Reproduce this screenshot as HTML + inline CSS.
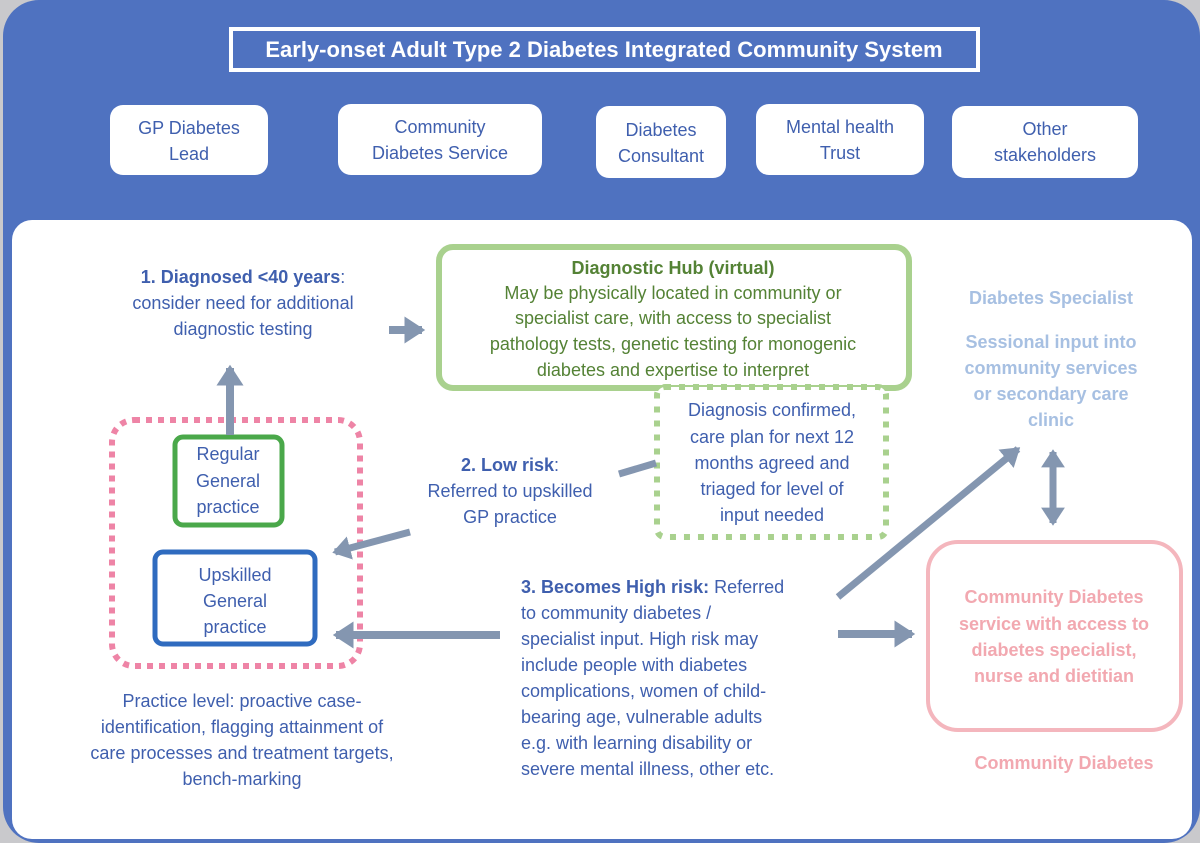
<!DOCTYPE html>
<html><head><meta charset="utf-8"><style>
html,body{margin:0;padding:0;background:#fff;}
svg{display:block;}
text{font-family:"Liberation Sans",sans-serif;font-size:18px;}
</style></head><body>
<svg width="1200" height="843" viewBox="0 0 1200 843" xmlns="http://www.w3.org/2000/svg">
<defs>
<marker id="ah" markerWidth="4" markerHeight="4" refX="2.2" refY="2" orient="auto" markerUnits="strokeWidth"><path d="M0,0.3 L2.6,2 L0,3.7 Z" fill="#8496b0"/></marker>
<marker id="ahs" markerWidth="4" markerHeight="4" refX="0.4" refY="2" orient="auto" markerUnits="strokeWidth"><path d="M2.6,0.3 L0,2 L2.6,3.7 Z" fill="#8496b0"/></marker>
</defs>
<rect x="0" y="0" width="1200" height="843" fill="#c9c9cc"/>
<rect x="3" y="0" width="1197" height="843" rx="36" fill="#4f72c0"/>
<rect x="12" y="220" width="1180" height="619" rx="20" fill="#fff"/>
<!-- title -->
<rect x="231" y="29" width="747" height="41" fill="none" stroke="#fff" stroke-width="4"/>
<text x="604" y="57" text-anchor="middle" fill="#fff" font-weight="bold" style="font-size:22px">Early-onset Adult Type 2 Diabetes Integrated Community System</text>
<!-- stakeholder boxes -->
<g fill="#fff">
<rect x="110" y="105" width="158" height="70" rx="13"/>
<rect x="338" y="104" width="204" height="71" rx="13"/>
<rect x="596" y="106" width="130" height="72" rx="13"/>
<rect x="756" y="104" width="168" height="71" rx="13"/>
<rect x="952" y="106" width="186" height="72" rx="13"/>
</g>
<g fill="#3f5fae" text-anchor="middle">
<text x="189" y="134">GP Diabetes</text><text x="189" y="160">Lead</text>
<text x="440" y="133">Community</text><text x="440" y="159">Diabetes Service</text>
<text x="661" y="136">Diabetes</text><text x="661" y="162">Consultant</text>
<text x="840" y="133">Mental health</text><text x="840" y="159">Trust</text>
<text x="1045" y="135">Other</text><text x="1045" y="161">stakeholders</text>
</g>
<!-- text 1 -->
<g fill="#3f5fae" text-anchor="middle">
<text x="243" y="283"><tspan font-weight="bold">1. Diagnosed &lt;40 years</tspan>:</text>
<text x="243" y="309">consider need for additional</text>
<text x="243" y="335">diagnostic testing</text>
</g>
<!-- diagnostic hub -->
<rect x="439" y="247" width="470" height="141" rx="14" fill="#fff" stroke="#a9d18e" stroke-width="6"/>
<g fill="#548235" text-anchor="middle">
<text x="673" y="274" font-weight="bold">Diagnostic Hub (virtual)</text>
<text x="673" y="299">May be physically located in community or</text>
<text x="673" y="324">specialist care, with access to specialist</text>
<text x="673" y="350">pathology tests, genetic testing for monogenic</text>
<text x="673" y="376">diabetes and expertise to interpret</text>
</g>
<line x1="389" y1="330" x2="422" y2="330" stroke="#8496b0" stroke-width="8" marker-end="url(#ah)"/>
<!-- dotted green -->
<rect x="657" y="387" width="229" height="150" rx="8" fill="#fff" stroke="#a9d18e" stroke-width="6" stroke-dasharray="6 8"/>
<g fill="#3f5fae" text-anchor="middle">
<text x="772" y="416">Diagnosis confirmed,</text>
<text x="772" y="443">care plan for next 12</text>
<text x="772" y="469">months agreed and</text>
<text x="772" y="495">triaged for level of</text>
<text x="772" y="521">input needed</text>
</g>
<!-- pink dotted practice -->
<rect x="112" y="420" width="248" height="246" rx="22" fill="none" stroke="#ee84a6" stroke-width="6" stroke-dasharray="6 6"/>
<rect x="175" y="437" width="107" height="88" rx="8" fill="#fff" stroke="#4aa84a" stroke-width="5"/>
<g fill="#3f5fae" text-anchor="middle">
<text x="228" y="460">Regular</text><text x="228" y="487">General</text><text x="228" y="513">practice</text>
</g>
<rect x="155" y="552" width="160" height="92" rx="8" fill="#fff" stroke="#2f6bbf" stroke-width="5"/>
<g fill="#3f5fae" text-anchor="middle">
<text x="235" y="581">Upskilled</text><text x="235" y="607">General</text><text x="235" y="633">practice</text>
</g>
<line x1="230" y1="435" x2="230" y2="368" stroke="#8496b0" stroke-width="8" marker-end="url(#ah)"/>
<g fill="#3f5fae" text-anchor="middle">
<text x="242" y="707">Practice level: proactive case-</text>
<text x="242" y="733">identification, flagging attainment of</text>
<text x="242" y="759">care processes and treatment targets,</text>
<text x="242" y="785">bench-marking</text>
</g>
<!-- low risk -->
<g fill="#3f5fae" text-anchor="middle">
<text x="510" y="471"><tspan font-weight="bold">2. Low risk</tspan>:</text>
<text x="510" y="497">Referred to upskilled</text>
<text x="510" y="523">GP practice</text>
</g>
<line x1="619" y1="474" x2="656" y2="463" stroke="#8496b0" stroke-width="7"/>
<line x1="410" y1="532" x2="335" y2="552" stroke="#8496b0" stroke-width="7" marker-end="url(#ah)"/>
<!-- high risk -->
<g fill="#3f5fae">
<text x="521" y="593"><tspan font-weight="bold">3. Becomes High risk:</tspan> Referred</text>
<text x="521" y="619">to community diabetes /</text>
<text x="521" y="645">specialist input. High risk may</text>
<text x="521" y="671">include people with diabetes</text>
<text x="521" y="697">complications, women of child-</text>
<text x="521" y="723">bearing age, vulnerable adults</text>
<text x="521" y="749">e.g. with  learning disability or</text>
<text x="521" y="775">severe mental illness, other etc.</text>
</g>
<line x1="500" y1="635" x2="336" y2="635" stroke="#8496b0" stroke-width="8" marker-end="url(#ah)"/>
<line x1="838" y1="634" x2="912" y2="634" stroke="#8496b0" stroke-width="8" marker-end="url(#ah)"/>
<line x1="838" y1="597" x2="1018" y2="449" stroke="#8496b0" stroke-width="7" marker-end="url(#ah)"/>
<line x1="1053" y1="452" x2="1053" y2="523" stroke="#8496b0" stroke-width="7" marker-end="url(#ah)" marker-start="url(#ahs)"/>
<!-- right -->
<g fill="#a7c0e2" text-anchor="middle" font-weight="bold">
<text x="1051" y="304">Diabetes Specialist</text>
<text x="1051" y="348">Sessional input into</text>
<text x="1051" y="374">community services</text>
<text x="1051" y="400">or secondary care</text>
<text x="1051" y="426">clinic</text>
</g>
<rect x="928" y="542" width="253" height="188" rx="30" fill="#fff" stroke="#f4b6bd" stroke-width="4"/>
<g fill="#f2a8b0" text-anchor="middle" font-weight="bold">
<text x="1054" y="603">Community Diabetes</text>
<text x="1054" y="630">service with access to</text>
<text x="1054" y="656">diabetes specialist,</text>
<text x="1054" y="682">nurse and dietitian</text>
<text x="1064" y="769">Community Diabetes</text>
</g>
</svg>
</body></html>
